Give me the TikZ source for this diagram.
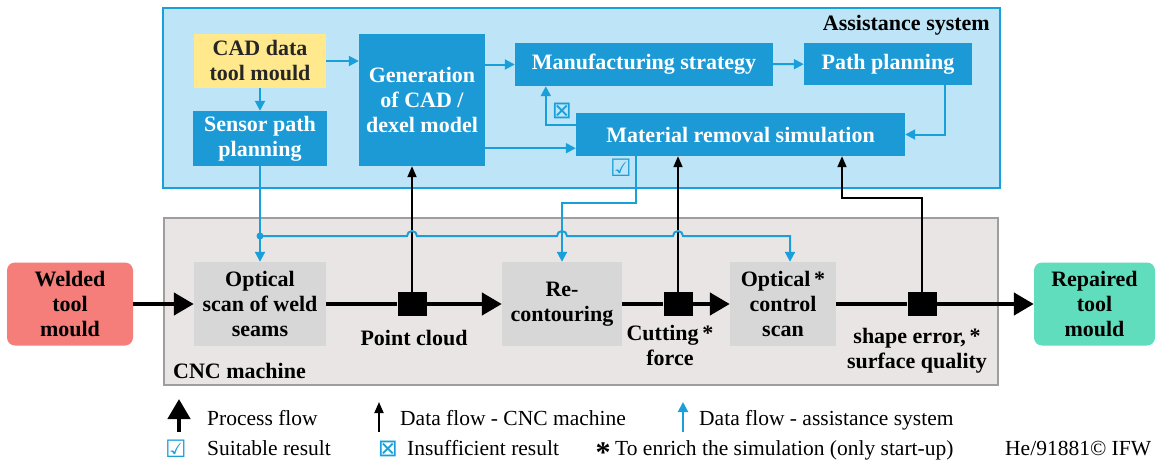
\documentclass[tikz,border=0pt]{standalone}
\usepackage{fontspec}
\setmainfont{Liberation Serif}[BoldFont={Liberation Serif Bold}]
\newfontfamily\symfont{DejaVu Sans}
\usepackage{tikz}
\usetikzlibrary{calc,arrows.meta}
\definecolor{asblue}{RGB}{27,154,214}
\definecolor{asback}{RGB}{190,228,247}
\definecolor{asline}{RGB}{25,160,219}
\definecolor{cncback}{RGB}{234,229,229}
\definecolor{cncline}{RGB}{158,158,158}
\definecolor{stepgray}{RGB}{215,215,215}
\definecolor{cadyellow}{RGB}{255,233,140}
\definecolor{weldred}{RGB}{245,125,122}
\definecolor{repgreen}{RGB}{96,221,188}
\newcommand\boxfont{\fontsize{22}{25}\selectfont\bfseries}
\newcommand\legfont{\fontsize{21.5}{25}\selectfont}

\begin{document}
\begin{tikzpicture}[x=1pt, y=-1pt,
    asnode/.style={fill=asblue, text=white, font=\boxfont, align=center, inner sep=0pt},
    cncnode/.style={fill=stepgray, font=\boxfont, align=center, inner sep=0pt},
    endnode/.style={rounded corners=8pt, font=\boxfont, align=center, inner sep=0pt},
    procflow/.style={line width=4.5pt, -{Triangle[length=20pt,width=22pt]}},
    cncflow/.style={line width=1.8pt, -{Triangle[length=11pt,width=9pt]}},
    asflow/.style={asline, line width=2pt, -{Triangle[length=10pt,width=10pt]}},
    datasq/.style={fill=black, minimum width=29pt, minimum height=24pt, inner sep=0pt},
    flowlabel/.style={font=\boxfont, align=center, inner sep=0pt},
    legtext/.style={font=\legfont, anchor=base west, inner sep=0pt},
    resultsym/.style={text=asline, font=\symfont\fontsize{24}{24}\selectfont, inner sep=0pt}]
  \useasboundingbox (0,0) rectangle (1162,466);

  % Frames
  \draw[fill=asback, draw=asline, line width=2.5pt] (163,8) rectangle (1000,188);
  \node[font=\boxfont, anchor=base east, inner sep=0pt] (astitle) at (990,30) {Assistance system};
  \draw[fill=cncback, draw=cncline, line width=2pt] (164,218) rectangle (998,385);
  \node[font=\boxfont, anchor=base west, inner sep=0pt] (cnctitle) at (173,378) {CNC machine};

  % Assistance system
  \node[fill=cadyellow, text=black!85, font=\boxfont, align=center, inner sep=0pt,
        minimum width=132pt, minimum height=54pt] (cad) at (260,61) {CAD data\\tool mould};
  \node[asnode, minimum width=134pt, minimum height=55pt] (sensor) at (260,138.5) {Sensor path\\planning};
  \node[asnode, minimum width=126pt, minimum height=132pt] (gen) at (422,100) {Generation\\of CAD /\\dexel model};
  \node[asnode, minimum width=258pt, minimum height=43pt] (manu) at (644,64.5) {Manufacturing strategy};
  \node[asnode, minimum width=168pt, minimum height=42pt] (path) at (888,64) {Path planning};
  \node[asnode, minimum width=329pt, minimum height=43pt] (mrs) at (740.5,134.5) {Material removal simulation};

  % CNC machine
  \node[endnode, fill=weldred, minimum width=126pt, minimum height=83pt] (welded) at (70,304) {Welded\\tool\\mould};
  \node[cncnode, minimum width=132pt, minimum height=84pt] (optscan) at (260,304) {Optical\\scan of weld\\seams};
  \node[cncnode, minimum width=120pt, minimum height=84pt] (recont) at (562,304) {Re-\\contouring};
  \node[cncnode, minimum width=106pt, minimum height=84pt] (optctrl) at (783,304) {Optical\,*\\control\\scan};
  \node[endnode, fill=repgreen, minimum width=121pt, minimum height=83pt] (repaired) at (1094.5,304) {Repaired\\tool\\mould};

  \node[datasq] (sq1) at (412,304) {};
  \node[datasq] (sq2) at (678,304) {};
  \node[datasq] (sq3) at (922,304) {};
  \node[flowlabel, anchor=north] (pcloud) at (414,330) {Point cloud};
  \node[flowlabel, anchor=north] (cforce) at (670,325) {Cutting\,*\\force};
  \node[flowlabel, anchor=north] (serror) at (917,328) {shape error,\,*\\surface quality};

  % Process flow
  \draw[procflow] (welded) -- (optscan);
  \draw[line width=4.5pt] (optscan) -- (sq1);
  \draw[procflow] (sq1) -- (recont);
  \draw[line width=4.5pt] (recont) -- (sq2);
  \draw[procflow] (sq2) -- (optctrl);
  \draw[line width=4.5pt] (optctrl) -- (sq3);
  \draw[procflow] (sq3) -- (repaired);

  % Data flow - CNC machine
  \coordinate (sebend) at (842,198);
  \draw[cncflow] (sq1.north) -- (sq1.north |- gen.south);
  \draw[cncflow] (sq2.north) -- (sq2.north |- mrs.south);
  \draw[cncflow] (sq3.north) |- (sebend) -- (sebend |- mrs.south);

  % Data flow - assistance system
  \draw[asflow] (cad.east) -- (cad.east -| gen.west);
  \draw[asflow] (cad) -- (sensor);
  \draw[asflow] (manu.west -| gen.east) -- (manu.west);
  \draw[asflow] (manu) -- (path);
  \draw[asflow] ([xshift=57pt]path.south) |- (mrs.east);
  \draw[asflow] ([yshift=18pt]gen.south east) -- ([yshift=18pt]gen.south east -| mrs.west);
  \draw[asflow] ([yshift=10pt]mrs.west) -| ([xshift=31pt]manu.south west);
  \node[resultsym] (insuf) at (562,111) {⊠};
  \node[resultsym] (suit) at (621,168) {☑};

  \coordinate (rcbend) at (562,203);
  \draw[asflow] ([xshift=60pt]mrs.south west) |- (rcbend) -- (recont.north);

  \coordinate (split) at (260,236);
  \coordinate (ocdrop) at (790,236);
  \draw[asflow] (sensor.south) -- (optscan.north);
  \fill[asline] (split) circle (3.5);
  \draw[asflow] (split) -- ($(sq1.north |- split)+(-5,0)$) arc[start angle=180, end angle=360, radius=5]
    -- ($(recont.north |- split)+(-5,0)$) arc[start angle=180, end angle=360, radius=5]
    -- ($(sq2.north |- split)+(-5,0)$) arc[start angle=180, end angle=360, radius=5]
    -- (ocdrop) -- (ocdrop |- optctrl.north);

  % Legend
  \draw[procflow] (179,432) -- (179,399);
  \node[legtext] (lproc) at (207,425) {Process flow};
  \draw[cncflow] (379,432) -- (379,402);
  \node[legtext] (lcnc) at (400,425) {Data flow - CNC machine};
  \draw[asflow] (683,432) -- (683,402);
  \node[legtext] (las) at (699,425) {Data flow - assistance system};
  \node[resultsym] (lsuit) at (176,449) {☑};
  \node[legtext] (lsuittxt) at (207,455) {Suitable result};
  \node[resultsym] (linsuf) at (388,449) {⊠};
  \node[legtext] (linsuftxt) at (407,455) {Insufficient result};
  \node[font=\fontsize{30}{30}\selectfont\bfseries, inner sep=0pt] (lstar) at (603,453) {*};
  \node[legtext] (lstartxt) at (615,455) {To enrich the simulation (only start-up)};
  \node[legtext] (lcopy) at (1005,455) {He/91881© IFW};
\end{tikzpicture}
\end{document}
